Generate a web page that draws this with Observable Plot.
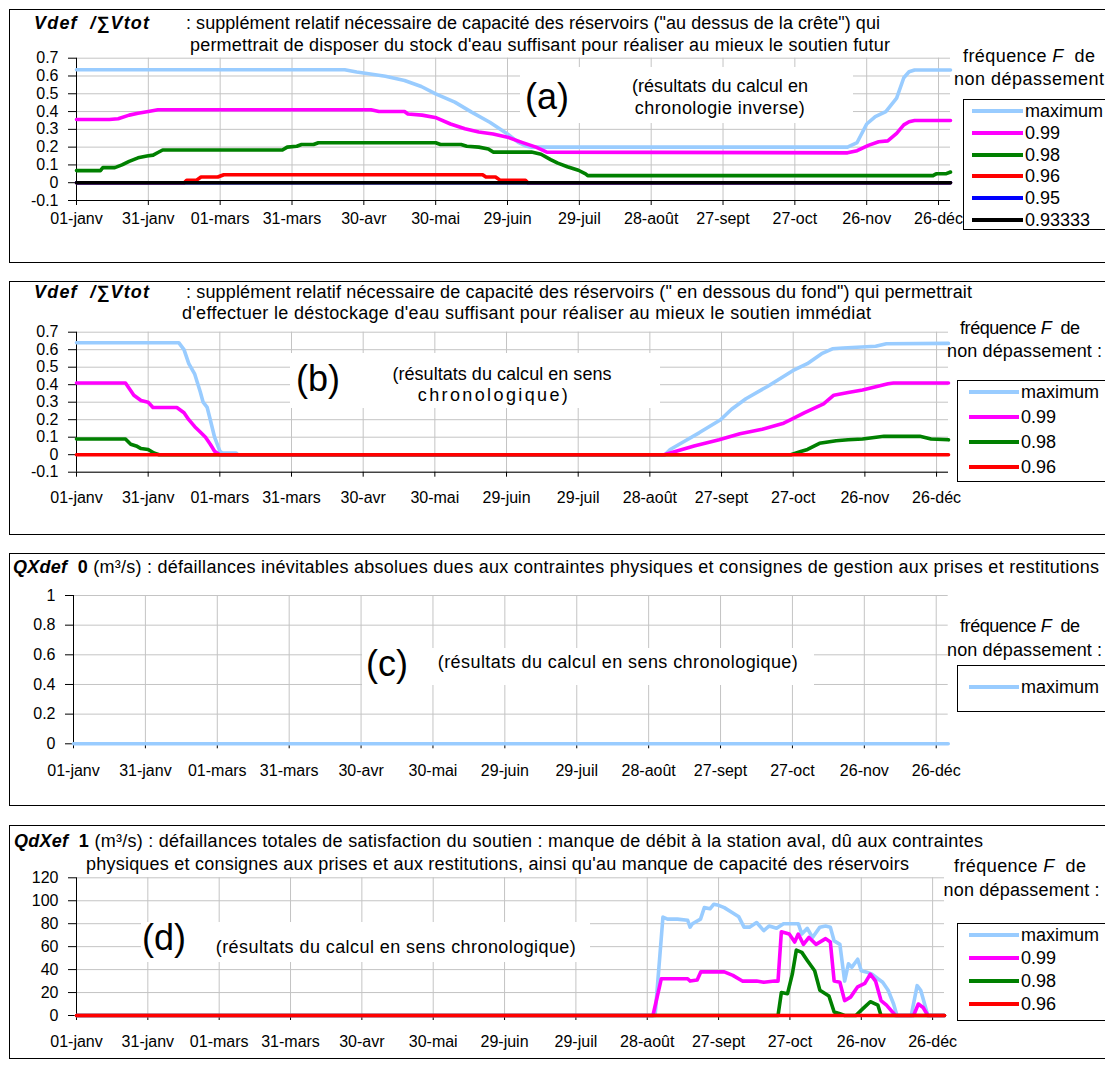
<!DOCTYPE html>
<html lang="fr">
<head>
<meta charset="utf-8">
<script src="https://cdn.jsdelivr.net/npm/d3@7"></script>
<script src="https://cdn.jsdelivr.net/npm/@observablehq/plot@0.6"></script>
<style>
html,body{margin:0;padding:0;background:#fff}
body{width:1105px;height:1075px;overflow:hidden;position:relative;font-family:"Liberation Sans",Arial,sans-serif;color:#000}
.box{position:absolute;border:1.5px solid #000;box-sizing:border-box}
.wb{position:absolute;background:#fff}
.tx{position:absolute;white-space:nowrap;font-size:18px;line-height:1}
.lg{position:absolute;background:#fff;border:1px solid #000;box-sizing:border-box}
.sw{position:absolute;height:4px}
.bi{font-weight:bold;font-style:italic;letter-spacing:1.2px}
</style>
</head>
<body>
<script>
// ---------- DATA ----------
const days = [0, 30, 60, 90, 120, 150, 180, 210, 240, 270, 300, 330, 360];
const dayLabels = ["01-janv","31-janv","01-mars","31-mars","30-avr","30-mai","29-juin","29-juil","28-août","27-sept","27-oct","26-nov","26-déc"];

const yTicksAB = [-0.1, 0, 0.1, 0.2, 0.3, 0.4, 0.5, 0.6, 0.7];
const yTicksC = [0, 0.2, 0.4, 0.6, 0.8, 1];
const yTicksD = [0, 20, 40, 60, 80, 100, 120];

const seriesNamesA = ["maximum", "0.99", "0.98", "0.96", "0.95", "0.93333"];
const seriesNamesBD = ["maximum", "0.99", "0.98", "0.96"];
const seriesNamesC = ["maximum"];
const seriesColors = ["#99CCFF", "#FF00FF", "#008000", "#FF0000", "#0000FF", "#000000"];

// panel (a) : [day, value]
const aMaximum = [[0,0.635],[112,0.635],[117,0.622],[122,0.613],[129,0.598],[137,0.575],[144,0.541],[150,0.5],[158,0.453],[165,0.397],[172.6,0.34],[180,0.274],[184.5,0.227],[188,0.205],[190,0.2],[322,0.2],[326,0.226],[330,0.33],[333.6,0.372],[338,0.4],[342.5,0.476],[345.5,0.59],[347.7,0.624],[350,0.634],[365,0.634]];
const aP99 = [[0,0.355],[13.7,0.355],[17.4,0.36],[22,0.38],[25.7,0.39],[30,0.4],[34,0.41],[123,0.41],[126.3,0.4],[137,0.4],[138.4,0.386],[144.3,0.38],[150.3,0.365],[156.2,0.33],[162.2,0.303],[168,0.285],[174,0.274],[180,0.256],[186,0.227],[191.9,0.2],[196.4,0.172],[322,0.168],[326,0.18],[330.7,0.21],[335,0.23],[338.8,0.235],[342.5,0.277],[345.5,0.325],[347.7,0.343],[350,0.35],[365,0.35]];
const aP98 = [[0,0.068],[10,0.068],[11,0.085],[16,0.085],[19,0.1],[22,0.12],[25.7,0.14],[29.4,0.15],[32,0.155],[34,0.17],[36,0.184],[86,0.184],[88,0.2],[92,0.205],[94,0.215],[99,0.215],[101,0.225],[150,0.225],[152,0.215],[160.6,0.215],[163,0.205],[168,0.2],[172,0.19],[174,0.172],[190,0.172],[194,0.16],[198,0.13],[201,0.11],[205,0.09],[209.6,0.07],[212.6,0.05],[213.5,0.04],[357.7,0.04],[359,0.05],[363,0.05],[365,0.06]];
const aP96 = [[0,0],[45,0],[46,0.013],[50,0.013],[52,0.032],[59,0.032],[61.5,0.045],[169.6,0.045],[171,0.032],[175,0.032],[177,0.013],[187.5,0.013],[188.5,0],[365,0]];
const aP95 = [[0,0],[365,0]];
const aP93333 = [[0,0],[365,0]];

// panel (b)
const bMaximum = [[0,0.64],[42.8,0.64],[45,0.6],[47,0.52],[49.5,0.46],[51.8,0.36],[53,0.3],[54.7,0.27],[56,0.2],[57.8,0.1],[60,0.02],[61,0.01],[66.7,0.01],[67.5,0],[246.3,0],[248.5,0.03],[254.5,0.077],[260.6,0.125],[269.6,0.2],[274.2,0.26],[280.2,0.32],[289.2,0.39],[299.8,0.48],[305.9,0.52],[311.9,0.577],[316.4,0.605],[320.9,0.61],[334.5,0.62],[339,0.634],[365,0.636]];
const bP99 = [[0,0.41],[20.5,0.41],[22,0.38],[24,0.34],[27,0.31],[30,0.3],[32,0.27],[42,0.27],[45,0.24],[47,0.2],[49.5,0.16],[51.8,0.13],[54,0.1],[56,0.06],[57.8,0.02],[60,0],[246,0],[251,0.02],[258.5,0.05],[269,0.086],[277.7,0.12],[287,0.145],[296,0.18],[299,0.2],[304.8,0.24],[312.7,0.29],[317,0.34],[323,0.355],[329,0.37],[335,0.39],[339.7,0.405],[342,0.41],[365,0.41]];
const bP98 = [[0,0.09],[20.5,0.09],[22.7,0.06],[25,0.05],[27,0.035],[30,0.03],[32.4,0.01],[34.6,0],[299,0],[303.5,0.02],[306,0.03],[311,0.065],[318,0.08],[323,0.085],[329,0.09],[338,0.105],[353,0.105],[357.7,0.09],[365,0.085]];
const bP96 = [[0,0],[365,0]];

// panel (c)
const cMaximum = [[0,0],[365,0]];

// panel (d)
const dMaximum = [[0,0],[243.3,0],[246.6,85.7],[248.5,84],[252.7,84],[257,83],[258,77],[259,80],[262.4,84],[264,94],[266.4,93],[268,97],[270,96],[272.4,94],[275.5,90],[278.5,86],[280.7,77],[283,77],[286,81],[289,74],[291.3,78],[294.4,76],[297.3,80],[301,80],[303.5,80],[305,71],[307.3,76],[309.5,68],[312.6,77],[315,78],[317,77],[318.6,65],[321,62],[323,30],[324.6,45],[326,42],[328.5,49],[330,39],[332,38],[334.5,36],[337,32],[339,29],[341.3,22],[343.6,10],[345,0],[351,0],[353.5,26],[355,22],[358,0],[365,0]];
const dP99 = [[0,0],[242.4,0],[245.9,32],[257,32],[258,30],[261,31],[262.5,38],[266.4,38],[272.4,38],[276,35],[280,30],[286,30],[289,29],[293.6,30],[295,30],[296.4,73],[299.7,71],[302,64],[303.5,71],[305.7,62],[308,68],[311,62],[315,67],[317,64],[318.6,30],[321,29],[323,13],[325.5,16],[328.5,25],[331.5,28],[333.8,36],[336,30],[338.3,13],[340.6,9],[344.4,0],[352,0],[354,10],[356,7],[358,0],[365,0]];
const dP98 = [[0,0],[295,0],[296.4,20],[299,19],[301,36],[302.7,57],[305,55],[307.3,48],[310.4,39],[312.6,22],[316.4,17],[318.6,3],[321,1.5],[323,0],[327.7,0],[330.7,6],[333.8,12],[337,9],[338.3,0],[365,0]];
const dP96 = [[0,0],[365,0]];

// ---------- LAYOUT ----------
const FONT = '"Liberation Sans", Arial, sans-serif';
const body = document.body;

function el(cls, css, html) {
  const d = document.createElement("div");
  d.className = cls;
  Object.assign(d.style, css);
  if (html !== undefined) d.innerHTML = html;
  body.appendChild(d);
  return d;
}
// text at (x, y=vertical centre); optional target width w (stretched via letter-spacing)
function text(x, y, html, anchor = "start", size = 18, w = null) {
  const t = el("tx", {left: x + "px", top: y + "px", fontSize: size + "px"}, html);
  t.style.transform = anchor === "middle" ? "translate(-50%,-50%)" : "translateY(-50%)";
  if (w) {
    const nat = t.getBoundingClientRect().width;
    const n = t.textContent.length;
    if (n > 1) t.style.letterSpacing = ((w - nat) / (n - 1)).toFixed(3) + "px";
  }
  return t;
}

const panels = [
  {top: 9, boxH: 254, svgTop: 40, height: 210, mL: 76, mR: 10, mT: 17.7, mB: 50, xPad: 7.5,
   yDomain: [-0.1, 0.7], yTicks: yTicksAB,
   series: [aMaximum, aP99, aP98, aP96, aP95, aP93333], names: seriesNamesA},
  {top: 281, boxH: 254, svgTop: 315, height: 200, mL: 76, mR: 12, mT: 16.7, mB: 43.3, xPad: 14,
   yDomain: [-0.1, 0.7], yTicks: yTicksAB,
   series: [bMaximum, bP99, bP98, bP96], names: seriesNamesBD},
  {top: 553, boxH: 253, svgTop: 580, height: 205, mL: 73, mR: 12.3, mT: 15, mB: 41.7, xPad: 16,
   yDomain: [0, 1], yTicks: yTicksC,
   series: [cMaximum], names: seriesNamesC},
  {top: 825, boxH: 234, svgTop: 865, height: 190, mL: 76, mR: 16, mT: 12.3, mB: 40, xPad: 15,
   yDomain: [0, 120], yTicks: yTicksD,
   series: [dMaximum, dP99, dP98, dP96], names: seriesNamesBD}
];

// panel frames
panels.forEach(p => el("box", {left: "9px", top: p.top + "px", width: "1110px", height: p.boxH + "px"}));

// charts
panels.forEach(p => {
  const chart = Plot.plot({
    width: 960, height: p.height,
    marginLeft: p.mL, marginRight: p.mR, marginTop: p.mT, marginBottom: p.mB,
    style: {fontFamily: FONT, fontSize: "16px", color: "#000", background: "transparent", overflow: "visible"},
    x: {domain: [0, 365], label: null},
    y: {domain: p.yDomain, label: null},
    marks: [
      Plot.gridX(days, {stroke: "#c4c4c4", strokeOpacity: 1}),
      Plot.gridY(p.yTicks, {stroke: "#c4c4c4", strokeOpacity: 1}),
      Plot.ruleX([0], {stroke: "#000", strokeWidth: 1}),
      Plot.ruleY([p.yDomain[0]], {stroke: "#000", strokeWidth: 1}),
      Plot.axisY(p.yTicks, {tickSize: 8, tickPadding: 10, fontSize: 16, tickFormat: d => String(d)}),
      Plot.axisX(days, {tickSize: 5, tickPadding: p.xPad, fontSize: 16, tickFormat: d => dayLabels[days.indexOf(d)]}),
      ...p.series.map((s, i) => Plot.line(s, {x: d => d[0], y: d => d[1], stroke: seriesColors[i], strokeWidth: 3.6, strokeLinejoin: "round"}))
    ]
  });
  chart.style.position = "absolute";
  chart.style.left = "0px";
  chart.style.top = p.svgTop + "px";
  body.appendChild(chart);
});

// white annotation boxes
[[520,66.7,333,56.3],[290,353.3,370,55],[362,648.3,452,36.7],[141,921.7,449,40]].forEach(([x,y,w,h]) =>
  el("wb", {left: x + "px", top: y + "px", width: w + "px", height: h + "px"}));

// titles
const VT = '<span class="bi">Vdef&nbsp;&nbsp;/∑Vtot</span>';
text(34, 23, VT);
text(186, 23, ': supplément relatif nécessaire de capacité des réservoirs ("au dessus de la crête") qui', "start", 18, 694);
text(190, 45, "permettrait de disposer du stock d'eau suffisant pour réaliser au mieux le soutien futur", "start", 18, 700);
text(34, 292, VT);
text(186, 292, ': supplément relatif nécessaire de capacité des réservoirs (" en dessous du fond") qui permettrait', "start", 18, 786);
text(182, 312.5, "d'effectuer le déstockage d'eau suffisant pour réaliser au mieux le soutien immédiat", "start", 18, 689);
text(13, 567, '<b><i>QXdef</i>&nbsp;&nbsp;0</b> (m³/s) : défaillances inévitables absolues dues aux contraintes physiques et consignes de gestion aux prises et restitutions', "start", 18, 1086);
text(14, 840.5, '<b><i>QdXef</i>&nbsp;&nbsp;1</b> (m³/s) : défaillances totales de satisfaction du soutien : manque de débit à la station aval, dû aux contraintes', "start", 18, 969);
text(86, 864, "physiques et consignes aux prises et aux restitutions, ainsi qu'au manque de capacité des réservoirs", "start", 18, 823);

// annotations
text(547, 97, "(a)", "middle", 36);
text(720, 85.5, "(résultats du calcul en", "middle", 18, 176);
text(720, 107.5, "chronologie inverse)", "middle", 18, 170);
text(318, 379, "(b)", "middle", 36);
text(502, 374, "(résultats du calcul en sens", "middle", 18, 219);
text(494, 395, "chronologique)", "middle", 18, 150);
text(387, 664, "(c)", "middle", 36);
text(618, 662, "(résultats du calcul en sens chronologique)", "middle", 18, 360);
text(164, 937.5, "(d)", "middle", 36);
text(396, 946.5, "(résultats du calcul en sens chronologique)", "middle", 18, 360);

// legends
const FR = "fréquence <i>F</i>&nbsp;&nbsp;de";
const legends = [
  {p: 0, fx: 963, fy: 56, fw: 132, nx: 954, ny: 78.5, nw: 150, nd: "non dépassement", box: [963,99.3,200,130.7], rows: [111,132.8,154.6,176.4,198.2,220], s1: 972, s2: 1023},
  {p: 1, fx: 960, fy: 327.5, fw: 120, nx: 947, ny: 351, nw: 155, nd: "non dépassement :", box: [957,380,200,101.7], rows: [391.7,416.7,441.7,466.7], s1: 969, s2: 1019},
  {p: 2, fx: 960, fy: 626, fw: 120, nx: 947, ny: 649.5, nw: 155, nd: "non dépassement :", box: [957,665,200,46.7], rows: [686.7], s1: 969, s2: 1019},
  {p: 3, fx: 954, fy: 866, fw: 132, nx: 943.6, ny: 890, nw: 156, nd: "non dépassement :", box: [957,923.3,200,97.4], rows: [935,958,981,1004], s1: 969, s2: 1019}
];
legends.forEach(L => {
  text(L.fx, L.fy, FR, "start", 18, L.fw);
  text(L.nx, L.ny, L.nd, "start", 18, L.nw);
  const [x,y,w,h] = L.box;
  el("lg", {left: x + "px", top: y + "px", width: w + "px", height: h + "px"});
  const names = panels[L.p].names;
  L.rows.forEach((ry, i) => {
    el("sw", {left: L.s1 + "px", top: (ry - 2) + "px", width: (L.s2 - L.s1) + "px", background: seriesColors[i]});
    text(L.s2 + 2, ry, names[i]);
  });
});
</script>
</body>
</html>
